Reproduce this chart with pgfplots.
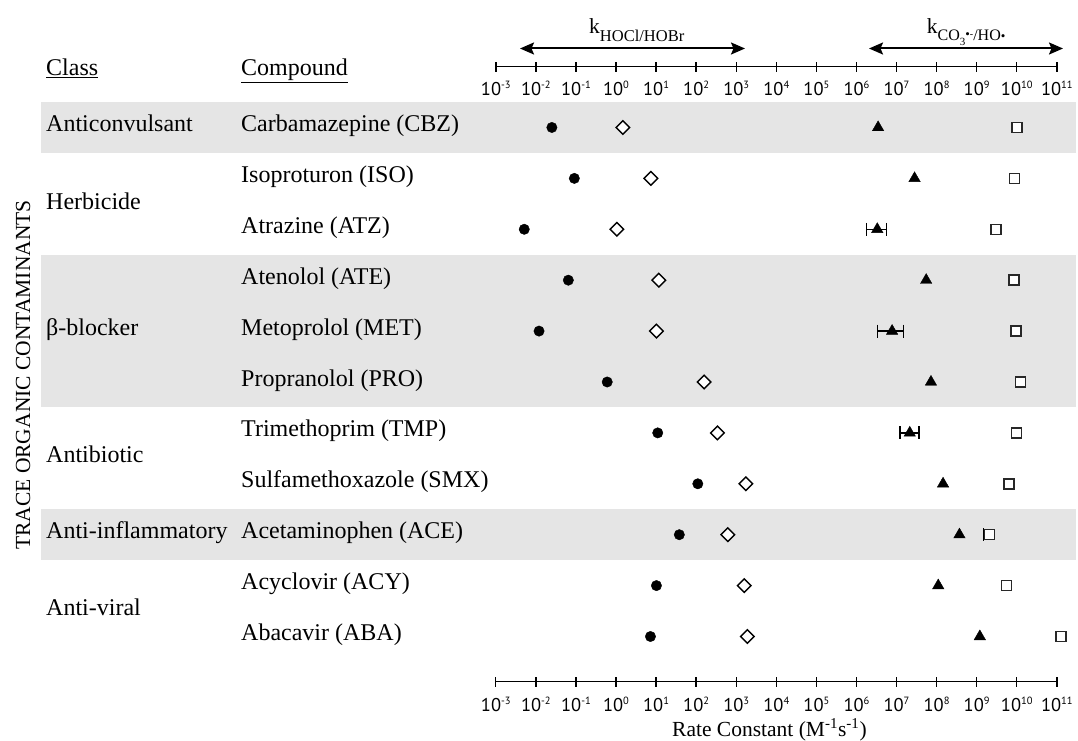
\documentclass[border=0pt]{standalone}
\usepackage{fontspec}
\setmainfont{Liberation Serif}
\newfontfamily\ticksf{PT Sans}
\usepackage{pgfplots}
\pgfplotsset{compat=1.18}
\usetikzlibrary{arrows.meta}
\definecolor{bandgray}{RGB}{229,229,229}
\definecolor{sqc}{RGB}{40,40,40}
\newcommand\tsup[1]{\raisebox{6.8pt}{\fontsize{10.5}{10.5}\selectfont #1}}
\newcommand\dec[1]{10\tsup{#1}}
\begin{document}
\begin{tikzpicture}
\useasboundingbox (0pt,0pt) rectangle (1078pt,740pt);
% ---------------- main axis ----------------
\begin{axis}[xmode=log, xmin=1e-3, xmax=1e11, scale only axis, width=561pt,
    axis y line=none, axis x line=bottom,
    axis line style={-, line width=1.5pt, black},
    xtick={1e-3,1e-2,1e-1,1,1e1,1e2,1e3,1e4,1e5,1e6,1e7,1e8,1e9,1e10,1e11},
    xticklabels={\dec{-3},\dec{-2},\dec{-1},\dec{0},\dec{1},\dec{2},\dec{3},\dec{4},\dec{5},\dec{6},\dec{7},\dec{8},\dec{9},\dec{10},\dec{11}},
    minor tick length=0pt, tick align=center, major tick length=10pt,
    every tick/.style={line width=1.4pt, black},
    xticklabel style={font=\ticksf\fontsize{18.5}{18.5}\selectfont, anchor=base, yshift=-24.5pt, inner sep=0pt},
    at={(495.8pt,58.3pt)}, anchor=south west, height=615pt,
    ymin=-0.888, ymax=11.194, clip=false]
% background bands (rows: CBZ; ATE-MET-PRO; ACE)
\addplot[fill=bandgray, draw=none, forget plot] coordinates {(4.5e-15,9.5) (3.0e11,9.5) (3.0e11,10.5) (4.5e-15,10.5)};
\addplot[fill=bandgray, draw=none, forget plot] coordinates {(4.5e-15,4.5) (3.0e11,4.5) (3.0e11,7.5) (4.5e-15,7.5)};
\addplot[fill=bandgray, draw=none, forget plot] coordinates {(4.5e-15,1.5) (3.0e11,1.5) (3.0e11,2.5) (4.5e-15,2.5)};
% k HOCl (filled circles)
\addplot[only marks, mark=*, mark size=5.2pt, black] coordinates {
 (0.0251,10) (0.0912,9) (0.00513,8) (0.0646,7) (0.0120,6) (0.603,5)
 (11.0,4) (110,3) (38.0,2) (10.2,1) (7.24,0)};
% k HOBr (open diamonds)
\addplot[only marks, mark=square*, mark size=4.8pt, mark options={rotate=45, fill=white, draw=black, line width=1.4pt}] coordinates {
 (1.48,10) (7.41,9) (1.05,8) (11.7,7) (10.2,6) (158,5)
 (339,4) (1738,3) (617,2) (1585,1) (1905,0)};
% error bars on CO3 rate constants
\addplot[black, line width=1.3pt, mark=|, mark size=6.5pt] coordinates {(1.78e6,8) (5.62e6,8)};
\addplot[black, line width=1.3pt, mark=|, mark size=6.5pt] coordinates {(3.39e6,6) (1.48e7,6)};
\addplot[black, line width=1.3pt, mark=|, mark size=6.5pt] coordinates {(1.23e7,4) (3.63e7,4)};
% k CO3 (filled triangles)
\addplot[only marks, mark=triangle*, mark size=6.6pt, black] coordinates {
 (3.47e6,10) (2.82e7,9) (3.31e6,8) (5.50e7,7) (7.76e6,6) (7.24e7,5)
 (2.14e7,4) (1.45e8,3) (3.72e8,2) (1.10e8,1) (1.20e9,0)};
% k HO (open squares)
\addplot[only marks, mark=square*, mark size=5pt, mark options={fill=white, draw=sqc, line width=1.5pt}] coordinates {
 (1.02e10,10) (8.91e9,9) (3.02e9,8) (8.51e9,7) (9.55e9,6) (1.23e10,5)
 (9.77e9,4) (6.46e9,3) (2.09e9,2) (5.62e9,1) (1.26e11,0)};
\addplot[black, line width=1.3pt, mark=|, mark size=6.5pt, mark indices={1}] coordinates {(1.48e9,2) (2.09e9,2)};
\end{axis}
% ---------------- top axis ----------------
\begin{axis}[xmode=log, xmin=1e-3, xmax=1e11, scale only axis, width=561pt,
    axis y line=none, axis x line=bottom,
    axis line style={-, line width=1.5pt, black},
    xtick={1e-3,1e-2,1e-1,1,1e1,1e2,1e3,1e4,1e5,1e6,1e7,1e8,1e9,1e10,1e11},
    xticklabels={\dec{-3},\dec{-2},\dec{-1},\dec{0},\dec{1},\dec{2},\dec{3},\dec{4},\dec{5},\dec{6},\dec{7},\dec{8},\dec{9},\dec{10},\dec{11}},
    minor tick length=0pt, tick align=center, major tick length=10pt,
    every tick/.style={line width=1.4pt, black},
    xticklabel style={font=\ticksf\fontsize{18.5}{18.5}\selectfont, anchor=base, yshift=-23.5pt, inner sep=0pt},
    at={(495.8pt,673.3pt)}, anchor=south west, height=2pt, ymin=0, ymax=1]
\addplot[draw=none, forget plot] coordinates {(1,0.5)};
\end{axis}
% ---------------- arrows and headers ----------------
\draw[line width=2pt, {Stealth[length=14pt,width=12pt,inset=2.5pt]}-{Stealth[length=14pt,width=12pt,inset=2.5pt]}] (520pt,691.5pt) -- (745pt,691.5pt);
\draw[line width=2pt, {Stealth[length=14pt,width=12pt,inset=2.5pt]}-{Stealth[length=14pt,width=12pt,inset=2.5pt]}] (869pt,691.5pt) -- (1063pt,691.5pt);
\node[anchor=base west, inner sep=0] at (589pt,706pt) {\fontsize{21.5}{21.5}\selectfont k\raisebox{-7.7pt}{\fontsize{16.5}{16.5}\selectfont HOCl/HOBr}};
\node[anchor=base west, inner sep=0] at (926.7pt,706.7pt) {\fontsize{21.5}{21.5}\selectfont k\raisebox{-7.7pt}{\fontsize{16}{16}\selectfont CO\raisebox{-4.5pt}{\fontsize{11}{11}\selectfont 3}\raisebox{2pt}{\fontsize{13}{13}\selectfont •\raisebox{1.5pt}{\fontsize{10}{10}\selectfont -}}/HO{\fontsize{13}{13}\selectfont •}}};
% ---------------- text columns ----------------
\begin{scope}[every node/.style={anchor=base west, inner sep=0, font=\fontsize{24}{24}\selectfont}]
\node at (46pt,664pt) {\underline{Class}};
\node at (241pt,664pt) {\underline{Compound}};
\node at (46pt,608.5pt) {Anticonvulsant};
\node at (46pt,530pt) {Herbicide};
\node at (46pt,405pt) {β-blocker};
\node at (46pt,277.3pt) {Antibiotic};
\node at (46pt,201.7pt) {Anti-inflammatory};
\node at (46pt,125pt) {Anti-viral};
\node at (241pt,608.5pt) {Carbamazepine (CBZ)};
\node at (241pt,557.6pt) {Isoproturon (ISO)};
\node at (241pt,506.7pt) {Atrazine (ATZ)};
\node at (241pt,455.8pt) {Atenolol (ATE)};
\node at (241pt,404.9pt) {Metoprolol (MET)};
\node at (241pt,354.0pt) {Propranolol (PRO)};
\node at (241pt,303.1pt) {Trimethoprim (TMP)};
\node at (241pt,252.2pt) {Sulfamethoxazole (SMX)};
\node at (241pt,201.3pt) {Acetaminophen (ACE)};
\node at (241pt,150.4pt) {Acyclovir (ACY)};
\node at (241pt,99.5pt) {Abacavir (ABA)};
\end{scope}
\node[rotate=90, inner sep=0, font=\fontsize{21.5}{21.5}\selectfont] at (23pt,365pt) {TRACE ORGANIC CONTAMINANTS};
\node[anchor=base west, inner sep=0, font=\fontsize{21.5}{21.5}\selectfont] at (672pt,4pt) {Rate Constant (M\textsuperscript{-1}s\textsuperscript{-1})};
\end{tikzpicture}
\end{document}
